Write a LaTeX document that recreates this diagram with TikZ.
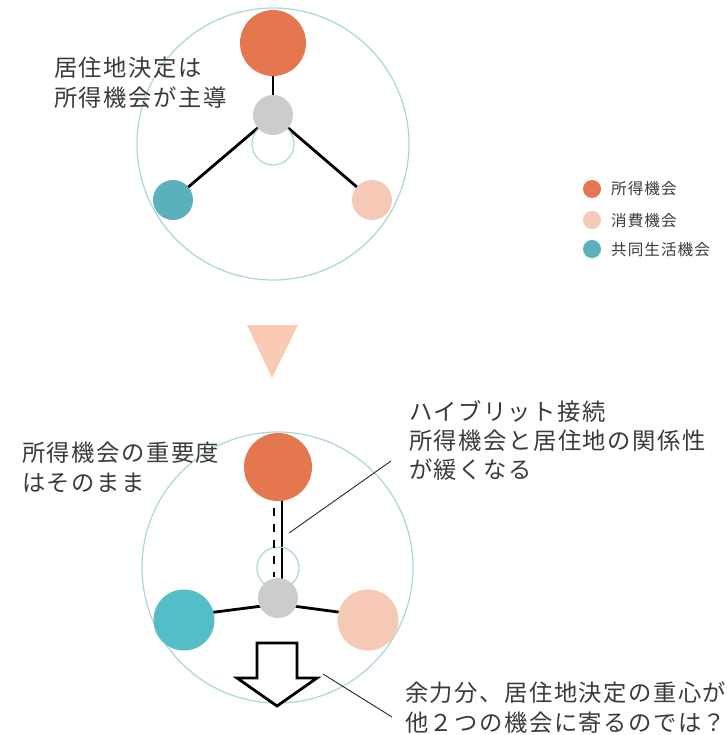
\documentclass[tikz,border=0pt]{standalone}
\usepackage{fontspec}
\newfontfamily\jp[LetterSpace=6.5]{Noto Sans CJK JP}
\usetikzlibrary{backgrounds,calc}
\definecolor{orng}{HTML}{E5774F}
\definecolor{peach}{HTML}{F6C9B6}
\definecolor{tealA}{HTML}{5AB1BB}
\definecolor{tealB}{HTML}{55BDC7}
\definecolor{gry}{HTML}{CBCCCE}
\definecolor{ring}{HTML}{A9D6DA}
\definecolor{txt}{HTML}{3A3A3A}
\definecolor{tri}{HTML}{F9CBB4}
\tikzset{
  bigring/.style={circle, draw=ring, line width=1.2pt, minimum size=#1, inner sep=0pt},
  dot/.style={circle, fill=#1, draw=none, inner sep=0pt},
  link/.style={line width=2.8pt, black},
  leader/.style={line width=0.9pt, black!85},
  lbl/.style={anchor=base west, inner sep=0pt, text=txt, font=\jp\fontsize{23.3}{30}\selectfont},
  leg/.style={anchor=base west, inner sep=0pt, text=txt, font=\jp\fontsize{15.6}{18}\selectfont},
}
\begin{document}
\begin{tikzpicture}[x=1pt,y=-1pt]
\useasboundingbox (0,0) rectangle (726,735);
% ---------- top diagram ----------
\node[bigring=272pt] (R1) at (273,144) {};
\node[bigring=42pt] (h1) at (273,144) {};
\node[dot=orng, minimum size=66pt] (o1) at (273,43) {};
\node[dot=gry, minimum size=40pt] (g1) at (273,115) {};
\node[dot=tealA, minimum size=40pt] (t1) at (173,200) {};
\node[dot=peach, minimum size=40pt] (p1) at (372,200) {};
\begin{pgfonlayer}{background}
\draw[link] (o1.center) -- (g1.center);
\draw[link] (g1.center) -- (t1.center);
\draw[link] (g1.center) -- (p1.center);
\end{pgfonlayer}
\node[lbl] (tl1) at (54,77) {居住地決定は};
\node[lbl] (tl2) at (54,107) {所得機会が主導};
% legend
\node[dot=orng, minimum size=18pt] (l1) at (592,189) {};
\node[dot=peach, minimum size=18pt] (l2) at (592,220) {};
\node[dot=tealA, minimum size=18pt] (l3) at (592,249) {};
\node[leg] (lt1) at (611,195) {所得機会};
\node[leg] (lt2) at (611,226) {消費機会};
\node[leg] (lt3) at (611,255) {共同生活機会};
% ---------- triangle ----------
\fill[tri] (247,325) -- (298,325) -- (272,378) -- cycle;
% ---------- bottom diagram ----------
\node[bigring=271pt] (R2) at (277.5,567.5) {};
\node[bigring=42pt] (h2) at (278,568) {};
\node[dot=orng, minimum size=68pt] (o2) at (278,467) {};
\node[dot=gry, minimum size=40pt] (g2) at (278,598) {};
\node[dot=tealB, minimum size=61pt] (t2) at (184,620) {};
\node[dot=peach, minimum size=61pt] (p2) at (368,620) {};
\begin{pgfonlayer}{background}
\draw[line width=1.3pt, black] ($(o2.center)+(4,0)$) -- ($(g2.center)+(4,0)$);
\draw[link] ($(g2.center)+(0,6)$) -- ($(t2.center)+(0,-4)$);
\draw[link] ($(g2.center)+(0,6)$) -- ($(p2.center)+(0,-4)$);
\end{pgfonlayer}
\draw[line width=1.3pt, black, dash pattern=on 8pt off 8pt] ($(o2.south)+(-4,7)$) -- ($(g2.north)+(-4,-1)$);
% block arrow
\draw[line width=2.8pt, black, fill=white, line join=miter]
  (257,643) -- (297,643) -- (297,678) -- (317,678) -- (277,706) -- (237,678) -- (257,678) -- cycle;
\coordinate (a1) at (289,533);
\coordinate (a2) at (391,461);
\coordinate (b1) at (323,674);
\coordinate (b2) at (392,717);
\draw[leader] (a1) -- (a2);
\draw[leader] (b1) -- (b2);
% texts
\node[lbl] (m1) at (22,461) {所得機会の重要度};
\node[lbl] (m2) at (22,491) {はそのまま};
\node[lbl] (r1) at (409,420) {ハイブリット接続};
\node[lbl] (r2) at (409,449) {所得機会と居住地の関係性};
\node[lbl] (r3) at (409,478) {が緩くなる};
\node[lbl] (s1) at (405,701) {余力分、居住地決定の重心が};
\node[lbl] (s2) at (405,731) {他２つの機会に寄るのでは？};
\end{tikzpicture}
\end{document}
